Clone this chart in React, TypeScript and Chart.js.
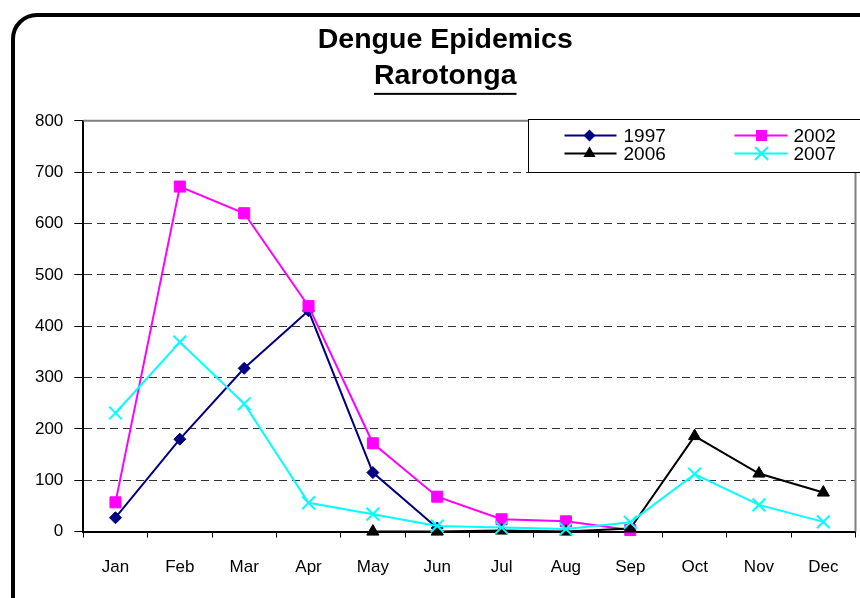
import React, { useEffect, useRef } from 'react';
import { Chart, registerables } from 'chart.js';

Chart.register(...registerables);

const FONT = '"Liberation Sans", Arial, Helvetica, sans-serif';

const titleLines = ['Dengue Epidemics', 'Rarotonga'];
const months = ['Jan', 'Feb', 'Mar', 'Apr', 'May', 'Jun', 'Jul', 'Aug', 'Sep', 'Oct', 'Nov', 'Dec'];
const seriesNames = ['1997', '2002', '2006', '2007'];
const cases1997 = [27, 180, 318, 430, 115, 7, null, null, null, null, null, null];
const cases2002 = [57, 672, 620, 439, 172, 68, 24, 20, 3, null, null, null];
const cases2006 = [null, null, null, null, 0, 0, 2, 0, 6, 186, 113, 76];
const cases2007 = [231, 369, 249, 56, 34, 11, 8, 5, 18, 112, 52, 19];
const yMin = 0;
const yMax = 800;
const yStep = 100;

const colors = ['#000080', '#FF00FF', '#000000', '#00FFFF'];
const styles = ['rectRot', 'rect', 'triangle', 'crossRot'];
const radii = [6, 7.8, 7, 9];

function drawMarker(ctx: CanvasRenderingContext2D, style: string, x: number, y: number, color: string) {
  ctx.save();
  ctx.fillStyle = color;
  ctx.strokeStyle = color;
  ctx.lineWidth = 2;
  ctx.beginPath();
  if (style === 'rectRot') {
    const r = 6;
    ctx.moveTo(x - r, y);
    ctx.lineTo(x, y - r);
    ctx.lineTo(x + r, y);
    ctx.lineTo(x, y + r);
    ctx.closePath();
    ctx.fill();
  } else if (style === 'rect') {
    const s = 5.5;
    ctx.rect(x - s, y - s, 2 * s, 2 * s);
    ctx.fill();
  } else if (style === 'triangle') {
    const r = 7;
    ctx.moveTo(x, y - r);
    ctx.lineTo(x + r * Math.sqrt(3) / 2, y + r / 2);
    ctx.lineTo(x - r * Math.sqrt(3) / 2, y + r / 2);
    ctx.closePath();
    ctx.fill();
  } else {
    const a = 6.5;
    ctx.moveTo(x - a, y - a);
    ctx.lineTo(x + a, y + a);
    ctx.moveTo(x + a, y - a);
    ctx.lineTo(x - a, y + a);
    ctx.stroke();
  }
  ctx.restore();
}

const framePlugin = {
  id: 'plotFrame',
  beforeDatasetsDraw(chart: any) {
    const { ctx, chartArea: ca } = chart;
    ctx.save();
    ctx.strokeStyle = '#808080';
    ctx.lineWidth = 2;
    ctx.beginPath();
    ctx.moveTo(ca.left, ca.top);
    ctx.lineTo(ca.right, ca.top);
    ctx.lineTo(ca.right, ca.bottom);
    ctx.stroke();
    ctx.restore();
  },
};

const underlinePlugin = {
  id: 'titleUnderline',
  afterDraw(chart: any) {
    const tb = chart.titleBlock;
    if (!tb) return;
    const ctx = chart.ctx as CanvasRenderingContext2D;
    ctx.save();
    ctx.font = `bold 28.5px ${FONT}`;
    const w = ctx.measureText(titleLines[1]).width;
    const cx = (tb.left + tb.right) / 2;
    const lh = 28.5 * 1.26;
    const mid2 = tb.top + 12 + lh * 1.5;
    ctx.fillStyle = '#000';
    ctx.fillRect(cx - w / 2, mid2 + 17, w, 2);
    ctx.restore();
  },
};

const boxLegendPlugin = {
  id: 'boxLegend',
  afterDraw(chart: any) {
    const ctx = chart.ctx as CanvasRenderingContext2D;
    const ca = chart.chartArea;
    const left = Math.round(ca.right - 328) + 0.5;
    const top = Math.round(ca.top - 2) + 0.5;
    ctx.save();
    ctx.fillStyle = '#fff';
    ctx.fillRect(left, top, 360, 53);
    ctx.strokeStyle = '#000';
    ctx.lineWidth = 1;
    ctx.strokeRect(left, top, 360, 53);
    ctx.font = `19px ${FONT}`;
    ctx.textBaseline = 'middle';
    ctx.textAlign = 'left';
    const cols = [{ l0: 36, l1: 88, m: 61, t: 95 }, { l0: 206, l1: 259, m: 233, t: 265 }];
    const rows = [16, 34];
    chart.data.datasets.forEach((ds: any, i: number) => {
      const c = cols[i % 2];
      const y = top + rows[Math.floor(i / 2)];
      ctx.strokeStyle = colors[i];
      ctx.lineWidth = 2;
      ctx.beginPath();
      ctx.moveTo(left + c.l0, y);
      ctx.lineTo(left + c.l1, y);
      ctx.stroke();
      drawMarker(ctx, styles[i], left + c.m, y, colors[i]);
      ctx.fillStyle = '#000';
      ctx.fillText(ds.label, left + c.t, y + 1);
    });
    ctx.restore();
  },
};

export default function App() {
  const ref = useRef<HTMLCanvasElement>(null);

  useEffect(() => {
    const values = [cases1997, cases2002, cases2006, cases2007];
    const datasets = values.map((data, i) => ({
      label: seriesNames[i],
      data,
      borderColor: colors[i],
      backgroundColor: colors[i],
      borderWidth: 2,
      pointStyle: styles[i],
      pointRadius: radii[i],
      pointBorderWidth: styles[i] === 'crossRot' ? 2 : 1,
      pointBorderColor: colors[i],
      pointBackgroundColor: colors[i],
      tension: 0,
      spanGaps: false,
      clip: false as any,
      order: 3 - i,
    }));

    const chart = new Chart(ref.current as HTMLCanvasElement, {
      type: 'line',
      data: { labels: months, datasets },
      options: {
        responsive: false,
        animation: false,
        events: [],
        layout: { autoPadding: false, padding: { left: 35, right: 4.5, top: 10, bottom: 0 } },
        plugins: {
          legend: { display: false },
          tooltip: { enabled: false },
          title: {
            display: true,
            text: titleLines,
            color: '#000',
            font: { family: FONT, size: 28.5, weight: 'bold', lineHeight: 1.26 },
            padding: { top: 12, bottom: 27 },
          },
        },
        scales: {
          x: {
            type: 'category',
            offset: true,
            afterFit: (scale: any) => {
              scale.paddingLeft = 0;
              scale.paddingRight = 0;
            },
            grid: {
              display: true,
              drawOnChartArea: false,
              drawTicks: true,
              tickLength: 6,
              offset: true,
              color: '#000',
              tickColor: '#000',
            },
            border: { display: true, color: '#000', width: 2 },
            ticks: {
              color: '#000',
              font: { family: FONT, size: 17 },
              padding: 20,
              maxRotation: 0,
              autoSkip: false,
            },
          },
          y: {
            min: yMin,
            max: yMax,
            afterFit: (scale: any) => {
              scale.width = 48.3;
            },
            grid: {
              color: (c: any) => (c.tick && (c.tick.value === yMax || c.tick.value === yMin) ? 'rgba(0,0,0,0)' : '#333'),
              tickColor: '#000',
              tickLength: 9,
              lineWidth: 1,
            },
            border: { display: true, color: '#000', width: 2, dash: [8, 5] },
            ticks: {
              stepSize: yStep,
              color: '#000',
              font: { family: FONT, size: 17 },
              padding: 11,
            },
          },
        },
      },
      plugins: [framePlugin, underlinePlugin, boxLegendPlugin],
    } as any);

    return () => chart.destroy();
  }, []);

  return (
    <div
      style={{
        position: 'fixed',
        left: 0,
        top: 0,
        width: 860,
        height: 598,
        overflow: 'hidden',
        background: '#fff',
      }}
    >
      <div
        style={{
          position: 'absolute',
          left: 11,
          top: 13,
          width: 900,
          height: 700,
          border: '4px solid #000',
          borderRadius: 26,
          boxSizing: 'border-box',
        }}
      />
      <canvas
        ref={ref}
        width={860}
        height={598}
        style={{ position: 'absolute', left: 0, top: 0, width: 860, height: 598 }}
      />
    </div>
  );
}
